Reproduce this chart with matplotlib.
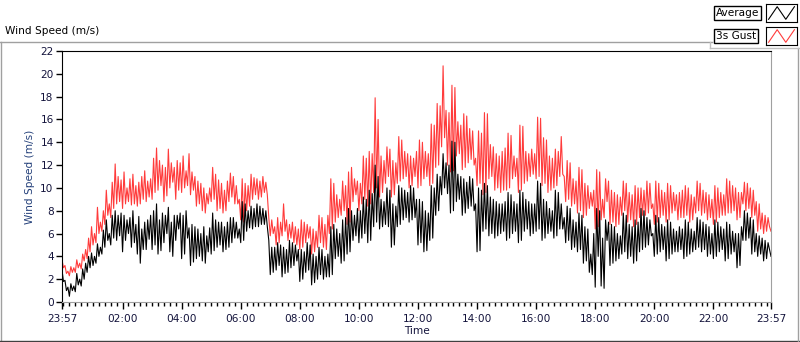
import matplotlib
matplotlib.use("Agg")
import matplotlib.pyplot as plt
import numpy as np
from matplotlib.lines import Line2D

# readings every 3 minutes from 23:57 to 23:57 next day (one row = one hour)
gust = [
    3.7, 3.0, 3.2, 2.5, 2.7, 2.3, 3.1, 2.6, 3.0, 2.6, 3.7, 3.0, 3.4, 2.9, 4.2, 3.6, 4.6, 3.8, 5.6, 4.4,
    6.6, 5.0, 6.0, 5.2, 8.3, 6.0, 7.0, 6.2, 8.0, 6.8, 9.8, 7.6, 8.6, 7.4, 10.5, 8.2, 12.1, 8.6, 11.0, 8.8,
    10.7, 8.2, 11.4, 8.6, 10.0, 8.8, 10.8, 8.5, 11.2, 8.6, 10.2, 8.4, 10.5, 8.6, 11.0, 9.0, 11.5, 8.8, 10.6, 9.2,
    10.8, 9.0, 12.6, 9.6, 13.5, 9.8, 12.4, 10.2, 12.0, 8.8, 11.8, 9.3, 13.4, 10.0, 12.2, 10.5, 11.8, 9.0, 12.4, 9.8,
    12.2, 9.6, 12.8, 10.0, 11.5, 10.2, 13.0, 9.4, 11.4, 9.8, 11.0, 8.4, 10.6, 8.6, 10.4, 8.0, 10.0, 7.8, 9.5, 8.6,
    10.0, 8.8, 11.8, 9.0, 11.2, 8.0, 10.7, 8.2, 10.4, 7.8, 9.8, 8.0, 10.6, 8.8, 11.3, 9.2, 11.0, 8.6, 10.2, 8.6,
    9.0, 7.2, 10.8, 7.0, 10.4, 8.0, 10.2, 8.4, 11.2, 9.0, 10.9, 9.4, 10.8, 9.0, 10.6, 9.2, 11.0, 9.6, 10.5, 9.4,
    7.4, 5.8, 7.2, 6.0, 6.6, 5.0, 7.4, 5.2, 7.0, 5.8, 8.6, 6.2, 7.2, 5.4, 6.8, 5.6, 7.0, 5.2, 6.6, 5.0,
    6.4, 4.6, 7.2, 4.8, 7.0, 5.2, 6.8, 5.6, 6.6, 4.2, 6.4, 4.4, 6.2, 4.8, 7.6, 5.2, 7.4, 4.8, 6.8, 4.6,
    7.6, 6.0, 10.8, 6.4, 10.4, 7.0, 9.4, 7.4, 9.0, 7.6, 10.6, 8.0, 10.2, 6.8, 11.4, 7.0, 11.8, 8.8, 10.8, 9.4,
    10.6, 8.0, 10.4, 8.6, 12.8, 9.0, 12.6, 8.4, 13.2, 8.6, 13.0, 9.6, 17.9, 10.0, 16.0, 9.2, 12.8, 9.6, 12.4, 10.4,
    13.6, 11.0, 13.4, 9.2, 12.4, 9.4, 12.2, 10.4, 14.5, 10.6, 14.2, 10.8, 13.2, 11.0, 13.0, 10.0, 12.8, 10.2, 12.6, 11.0,
    13.2, 10.0, 14.2, 10.2, 14.0, 10.8, 13.2, 11.0, 13.0, 10.2, 15.6, 10.4, 15.5, 11.8, 17.4, 12.0, 17.2, 13.6, 20.7, 14.4,
    16.8, 12.0, 16.6, 11.4, 19.0, 11.5, 18.8, 12.8, 15.8, 13.0, 15.5, 11.6, 16.5, 11.8, 16.3, 12.2, 15.2, 12.5, 15.0, 12.0,
    12.6, 10.2, 15.0, 10.4, 14.8, 9.4, 16.6, 9.6, 16.5, 10.8, 13.8, 11.0, 13.6, 9.8, 13.0, 10.0, 12.8, 9.6, 13.2, 9.8,
    13.5, 9.8, 14.8, 10.0, 14.6, 10.8, 12.8, 11.0, 12.6, 9.6, 15.5, 9.8, 15.4, 10.4, 13.2, 10.6, 13.0, 11.0, 13.4, 11.2,
    13.0, 10.8, 16.2, 11.0, 16.1, 10.2, 14.4, 10.4, 14.2, 9.6, 12.8, 9.8, 12.6, 10.0, 13.4, 10.2, 13.2, 11.0, 14.5, 11.2,
    11.0, 8.8, 12.4, 9.0, 12.2, 8.4, 10.8, 8.6, 10.6, 7.8, 11.8, 8.0, 11.6, 7.4, 10.4, 7.6, 10.2, 8.2, 9.6, 8.4,
    9.8, 6.4, 11.6, 6.6, 11.4, 7.2, 9.0, 7.4, 10.8, 8.8, 10.6, 6.8, 9.8, 7.0, 9.6, 6.6, 9.4, 6.8, 9.2, 7.6,
    10.6, 8.0, 10.4, 7.0, 9.6, 7.2, 9.4, 6.6, 10.2, 6.8, 10.0, 7.4, 10.0, 7.6, 9.8, 7.6, 10.6, 7.8, 10.4, 8.2,
    8.6, 6.8, 10.6, 7.0, 10.4, 7.4, 9.8, 7.6, 9.6, 7.0, 10.4, 7.2, 10.2, 7.8, 9.6, 8.0, 9.4, 7.2, 9.6, 7.4,
    9.8, 7.4, 10.2, 7.6, 10.0, 7.0, 9.4, 7.2, 9.2, 7.8, 10.6, 8.0, 10.4, 7.6, 9.8, 7.8, 9.6, 7.2, 9.4, 7.4,
    9.0, 6.8, 10.2, 7.0, 10.0, 7.4, 9.6, 7.6, 9.4, 7.6, 10.8, 7.8, 10.6, 7.8, 10.2, 8.0, 10.0, 7.2, 9.6, 7.4,
    9.6, 8.6, 10.5, 8.0, 10.4, 8.2, 10.0, 7.4, 9.8, 7.6, 8.8, 6.2, 8.6, 6.4, 7.8, 6.0, 7.6, 6.2, 7.4, 6.6, 6.2,
]
average = [
    2.8, 1.8, 1.9, 1.0, 1.3, 0.5, 1.6, 1.0, 1.4, 0.9, 2.5, 1.5, 2.0, 1.4, 2.9, 2.0, 3.4, 2.6, 4.0, 3.0,
    4.3, 3.2, 4.0, 3.4, 5.1, 4.0, 4.8, 4.2, 6.3, 4.8, 7.2, 5.4, 6.0, 5.0, 7.6, 5.6, 8.0, 5.4, 7.6, 5.8,
    7.8, 4.4, 7.6, 5.4, 7.2, 6.0, 7.4, 4.8, 8.0, 5.2, 6.8, 4.2, 7.5, 3.4, 6.4, 4.6, 7.0, 4.6, 7.2, 5.5,
    7.6, 4.6, 8.0, 5.0, 8.6, 4.2, 7.2, 4.5, 7.8, 5.2, 7.6, 6.0, 8.3, 4.4, 7.0, 4.0, 7.6, 5.4, 7.6, 6.4,
    7.8, 3.8, 7.6, 4.2, 8.0, 5.6, 6.5, 3.2, 6.8, 3.5, 6.6, 3.8, 6.4, 4.0, 6.0, 3.6, 6.6, 3.4, 5.8, 4.4,
    6.5, 4.2, 7.8, 4.5, 7.2, 4.8, 7.0, 5.0, 7.0, 4.4, 6.6, 4.6, 7.0, 4.8, 7.4, 5.2, 7.4, 5.6, 7.0, 5.6,
    6.4, 5.2, 8.8, 5.4, 8.6, 6.2, 8.0, 6.5, 8.4, 6.4, 8.2, 6.6, 8.6, 6.6, 8.4, 6.8, 8.2, 6.8, 8.0, 6.6,
    5.4, 2.4, 4.8, 2.6, 4.8, 2.8, 5.2, 3.2, 5.0, 2.2, 4.8, 2.5, 4.6, 2.6, 5.4, 3.0, 5.2, 3.2, 5.0, 3.6,
    4.6, 1.8, 4.6, 2.0, 4.4, 2.6, 5.2, 2.8, 5.0, 1.5, 4.2, 1.7, 4.0, 2.0, 4.8, 2.4, 4.6, 2.0, 4.0, 2.2,
    4.2, 2.2, 6.6, 2.4, 6.8, 3.8, 6.4, 4.0, 6.0, 3.4, 7.2, 3.6, 7.4, 4.2, 8.2, 4.4, 8.0, 5.4, 7.6, 5.8,
    8.2, 5.2, 8.0, 5.6, 9.2, 6.0, 9.0, 5.2, 9.8, 5.4, 9.5, 6.6, 12.0, 7.0, 11.0, 6.4, 9.0, 6.6, 8.8, 6.8,
    10.0, 6.6, 9.8, 4.8, 8.6, 5.0, 8.4, 6.6, 10.2, 6.8, 10.0, 7.2, 9.8, 7.4, 9.6, 7.0, 10.2, 7.2, 10.0, 7.4,
    9.0, 5.0, 9.0, 5.2, 8.8, 4.4, 8.0, 4.5, 7.8, 5.4, 10.2, 5.6, 10.0, 7.6, 11.2, 8.0, 11.0, 9.4, 13.0, 10.0,
    12.2, 9.5, 12.0, 7.8, 14.1, 8.0, 14.0, 8.8, 11.2, 9.0, 11.0, 7.6, 10.8, 7.8, 10.5, 8.2, 11.0, 8.4, 10.8, 8.0,
    8.6, 4.4, 10.0, 4.5, 9.8, 6.2, 10.4, 6.4, 10.2, 5.8, 9.2, 6.0, 9.0, 5.6, 8.8, 5.8, 8.6, 6.0, 8.6, 6.2,
    8.8, 5.4, 9.6, 5.6, 9.4, 6.0, 8.8, 6.2, 8.6, 5.2, 9.8, 5.4, 9.6, 6.2, 9.0, 6.4, 8.8, 5.8, 8.6, 6.0,
    8.6, 6.2, 10.6, 6.4, 10.4, 5.4, 9.0, 5.6, 8.8, 6.0, 8.2, 6.2, 8.0, 5.6, 9.8, 5.8, 9.6, 6.4, 8.6, 6.4,
    7.4, 5.2, 8.4, 5.4, 8.2, 4.6, 7.2, 4.8, 7.0, 4.4, 7.8, 4.6, 7.6, 3.4, 6.6, 3.6, 6.4, 2.6, 4.2, 2.4,
    6.0, 1.3, 8.2, 4.0, 8.0, 1.4, 5.6, 1.2, 7.2, 5.4, 7.0, 3.2, 6.8, 3.4, 6.6, 3.6, 6.0, 3.8, 5.8, 4.2,
    7.8, 4.4, 7.6, 3.8, 6.8, 4.0, 6.6, 3.4, 7.2, 3.6, 7.0, 4.4, 8.2, 4.6, 8.0, 4.8, 7.4, 5.0, 7.2, 5.8,
    6.0, 4.0, 7.6, 4.2, 7.4, 4.4, 6.8, 4.6, 6.6, 3.6, 7.2, 3.8, 7.0, 4.2, 6.4, 4.4, 6.2, 4.4, 6.6, 4.6,
    6.4, 3.8, 7.2, 4.0, 7.0, 4.2, 6.4, 4.4, 6.2, 4.6, 7.4, 4.8, 7.2, 4.4, 7.0, 4.6, 6.8, 4.0, 6.6, 4.2,
    6.0, 3.8, 7.2, 4.0, 7.0, 4.4, 6.6, 4.6, 6.4, 3.6, 7.0, 3.8, 6.8, 4.2, 6.2, 4.4, 6.0, 3.0, 6.0, 3.2,
    6.6, 5.4, 8.0, 5.4, 7.8, 5.6, 7.4, 4.2, 7.2, 4.4, 6.0, 4.0, 5.8, 4.2, 5.6, 3.6, 5.4, 3.8, 5.2, 4.6, 4.0,
]
tick_labels = ["23:57", "02:00", "04:00", "06:00", "08:00", "10:00",
               "12:00", "14:00", "16:00", "18:00", "20:00", "22:00", "23:57"]
tick_pos = [0, 123, 243, 363, 483, 603, 723, 843, 963, 1083, 1203, 1323, 1440]

t_gust = np.linspace(0, 1440, len(gust))
t_avg = np.linspace(0, 1440, len(average))

fig = plt.figure(figsize=(8, 3.42), dpi=100)
plt.rcParams["font.family"] = ["DejaVu Sans"]
fs = 7.6
W, H = 800, 342

ax = fig.add_axes([62 / W, 40 / H, 709 / W, 251 / H])
ax.plot(t_gust, gust, color="#ff3b3b", lw=0.8)
ax.plot(t_avg, average, color="black", lw=0.8)

ax.set_xlim(0, 1440)
ax.set_ylim(0, 22)
ax.set_yticks(range(0, 23, 2))
ax.set_xticks(tick_pos)
ax.set_xticklabels(tick_labels)
ax.set_xticks(np.arange(3, 1440, 12), minor=True)
ax.tick_params(axis="both", labelsize=fs, colors="black", labelcolor="#14143c")
ax.tick_params(axis="y", length=4, width=1, pad=2)
ax.tick_params(axis="x", which="major", length=5, width=1, pad=4)
ax.tick_params(axis="x", which="minor", length=3, width=1)
ax.spines["left"].set_color("black")
ax.spines["top"].set_color("black")
ax.spines["right"].set_color("#a0a0a0")
ax.spines["bottom"].set_color("#a0a0a0")
ax.set_ylabel("Wind Speed (m/s)", fontsize=fs, color="#24407a", labelpad=4)
ax.set_xlabel("Time", fontsize=fs, color="#14143c", labelpad=1)

# panel frame
fig.add_artist(Line2D([0, 712 / W], [1 - 42 / H] * 2, color="#a0a0a0", lw=1))
fig.add_artist(Line2D([0.5 / W] * 2, [1 - 42 / H, 0], color="#a0a0a0", lw=1))
fig.add_artist(Line2D([0, 1], [0.8 / H] * 2, color="#404040", lw=1))
fig.add_artist(Line2D([798 / W] * 2, [0, 1 - 48 / H], color="#a0a0a0", lw=1))
fig.text(5 / W, 1 - 31 / H, "Wind Speed (m/s)", fontsize=fs, va="center", ha="left")

# legend
fig.add_artist(Line2D([710 / W, 1], [1 - 48 / H] * 2, color="#c0c0c0", lw=1))
fig.add_artist(Line2D([710 / W] * 2, [1 - 48 / H, 1 - 42 / H], color="#c0c0c0", lw=1))
for row, (name, col) in enumerate([("Average", "black"), ("3s Gust", "#ff3b3b")]):
    y0 = 4 + row * 23
    fig.text(716 / W, 1 - (y0 + 9) / H, name, fontsize=fs, va="center", ha="left",
             bbox=dict(boxstyle="square,pad=0.15", fc="white", ec="black", lw=1))
    la = fig.add_axes([766 / W, 1 - (y0 + 18) / H, 31 / W, 18 / H])
    la.plot([0, 1, 2, 3], [0.15, 0.85, 0.15, 0.85], color=col, lw=0.8)
    la.set_xlim(-0.3, 3.3)
    la.set_ylim(0, 1)
    la.set_xticks([])
    la.set_yticks([])
    for s in la.spines.values():
        s.set_color("black")

fig.savefig("out.png", dpi=100)
